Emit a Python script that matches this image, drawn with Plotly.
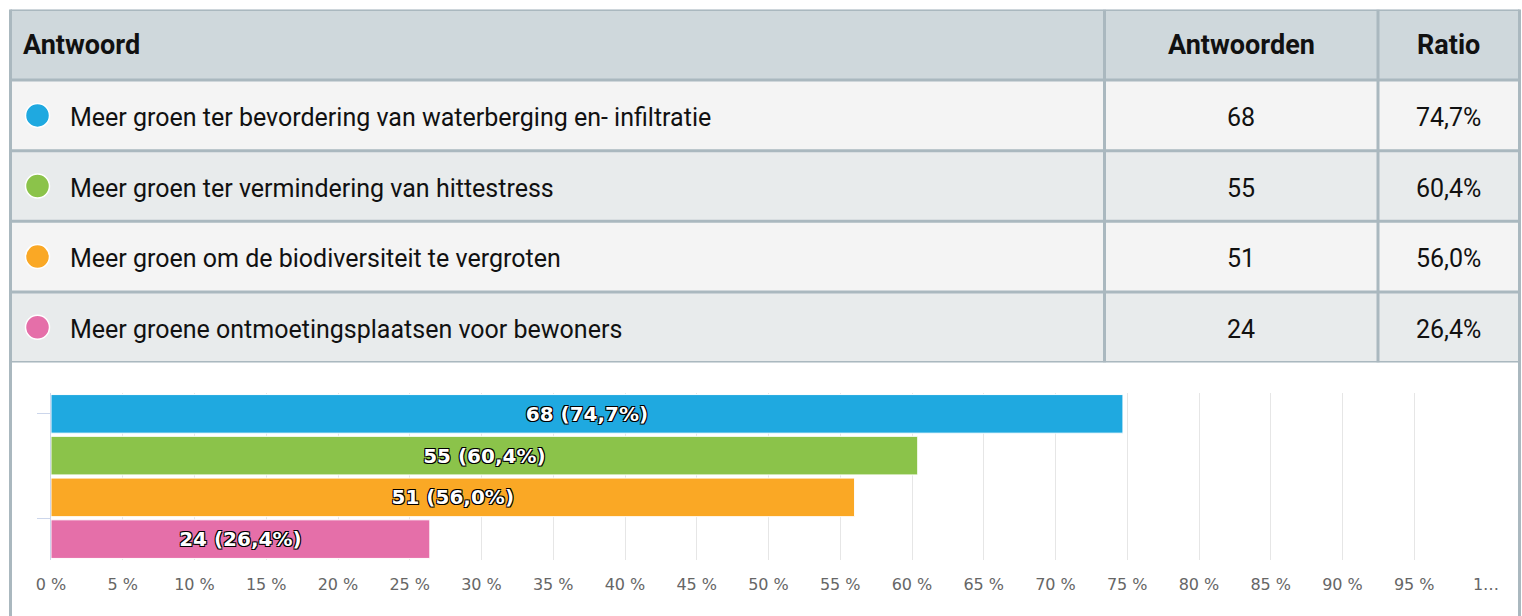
import plotly.graph_objects as go

# ---------------- data ----------------
answers = [
    "Meer groen ter bevordering van waterberging en- infiltratie",
    "Meer groen ter vermindering van hittestress",
    "Meer groen om de biodiversiteit te vergroten",
    "Meer groene ontmoetingsplaatsen voor bewoners",
]
counts = [68, 55, 51, 24]
ratios = [74.7, 60.4, 56.0, 26.4]
colors = ["#1fa9e0", "#8bc34a", "#faa825", "#e56fa9"]
headers = ["Antwoord", "Antwoorden", "Ratio"]
x_tickvals = list(range(0, 101, 5))
x_ticktext = [f"{v} %" for v in range(0, 100, 5)] + ["1…"]

# ---------------- helpers ----------------
W, H = 1522, 616
def px(x):
    return x / W
def py(y):
    return 1 - y / H
def fmt(r):
    return f"{r:.1f}".replace(".", ",") + "%"

BORDER = "#aab8bf"
HEAD_BG = "#cfd8dc"
ROW_BG = ["#f4f4f4", "#e8ebec"]
TABLE_FONT = "Roboto, sans-serif"
HSIZE = 27
TSIZE = 25

fig = go.Figure()

# bar chart
fig.add_trace(go.Bar(
    y=answers, x=ratios, orientation="h",
    marker=dict(color=colors, line=dict(color="white", width=1)),
    text=[f"{c} ({fmt(r)})" for c, r in zip(counts, ratios)],
    textposition="inside", insidetextanchor="middle", textangle=0,
    constraintext="none",
    textfont=dict(family="DejaVu Sans", size=20, color="white", weight="bold",
                  shadow="-1px -1px 0 #000, 1px -1px 0 #000, -1px 1px 0 #000, 1px 1px 0 #000"),
    hoverinfo="skip", xaxis="x", yaxis="y",
))

# table circles
rows = list(range(1, len(answers) + 1))
fig.add_trace(go.Scatter(
    x=[37.5] * len(answers), y=rows, mode="markers",
    marker=dict(color=colors, size=24, line=dict(color="white", width=1.5)),
    hoverinfo="skip", xaxis="x2", yaxis="y2",
))

shapes = []
annotations = []
# row backgrounds
for k in range(len(answers) + 1):
    fill = HEAD_BG if k == 0 else ROW_BG[(k - 1) % 2]
    shapes.append(dict(type="rect", xref="paper", yref="y2", x0=px(10.5), x1=px(1519.5),
                       y0=k - 0.5, y1=k + 0.5, fillcolor=fill, line=dict(width=0), layer="below"))
# horizontal lines
for k in range(len(answers) + 2):
    shapes.append(dict(type="line", xref="paper", yref="y2", x0=px(10.5), x1=px(1519.5),
                       y0=k - 0.5, y1=k - 0.5, line=dict(color=BORDER, width=3)))
# column separators
for xc in (1104.5, 1378):
    shapes.append(dict(type="line", xref="paper", yref="y2", x0=px(xc), x1=px(xc),
                       y0=-0.5, y1=len(answers) + 0.5, line=dict(color=BORDER, width=3)))
# outer borders
for xc in (10.5, 1519.5):
    shapes.append(dict(type="line", xref="paper", yref="paper", x0=px(xc), x1=px(xc),
                       y0=0, y1=py(9.5), line=dict(color=BORDER, width=3)))

col_centers = [px((1104.5 + 1378) / 2), px((1378 + 1519.5) / 2)]
# header text
annotations.append(dict(text=headers[0], xref="paper", yref="y2", x=px(21), y=0,
                        xanchor="left", yanchor="middle", showarrow=False,
                        font=dict(family=TABLE_FONT, size=HSIZE, color="#111", weight="bold")))
for t, xc in zip(headers[1:], col_centers):
    annotations.append(dict(text=t, xref="paper", yref="y2", x=xc, y=0,
                            xanchor="center", yanchor="middle", showarrow=False,
                            font=dict(family=TABLE_FONT, size=HSIZE, color="#111", weight="bold")))
# body text
for k, (a, c, r) in enumerate(zip(answers, counts, ratios), start=1):
    annotations.append(dict(text=a, xref="paper", yref="y2", x=px(68), y=k, yshift=-2,
                            xanchor="left", yanchor="middle", showarrow=False,
                            font=dict(family=TABLE_FONT, size=TSIZE, color="#111")))
    annotations.append(dict(text=str(c), xref="paper", yref="y2", x=col_centers[0], y=k, yshift=-2,
                            xanchor="center", yanchor="middle", showarrow=False,
                            font=dict(family=TABLE_FONT, size=TSIZE, color="#111")))
    annotations.append(dict(text=fmt(r), xref="paper", yref="y2", x=col_centers[1], y=k, yshift=-2,
                            xanchor="center", yanchor="middle", showarrow=False,
                            font=dict(family=TABLE_FONT, size=TSIZE, color="#111")))

fig.update_layout(
    width=W, height=H, margin=dict(l=0, r=0, t=0, b=0),
    paper_bgcolor="white", plot_bgcolor="white", showlegend=False,
    bargap=0.075,
    xaxis=dict(domain=[px(51), px(1486)], range=[0, 100], tickmode="array",
               tickvals=x_tickvals, ticktext=x_ticktext, showgrid=True, gridcolor="#e6e6e6",
               gridwidth=1, zeroline=False, showline=False, ticks="", ticklabelstandoff=13,
               tickfont=dict(family="DejaVu Sans", size=16, color="#666666"),
               anchor="y", fixedrange=True, automargin=False),
    yaxis=dict(domain=[py(560), py(393)], type="category", categoryorder="array",
               categoryarray=answers, autorange="reversed", showline=True, linecolor="#ccd6eb",
               linewidth=1, tickmode="array", tickvals=[0, 2.5], ticktext=["", ""],
               ticks="outside", ticklen=13, tickcolor="#ccd6eb", showgrid=False,
               anchor="x", fixedrange=True, automargin=False),
    xaxis2=dict(domain=[0, 1], range=[0, W], visible=False, anchor="y2", fixedrange=True),
    yaxis2=dict(domain=[py(362.5), py(9.5)], range=[len(answers) + 0.5, -0.5], visible=False,
                anchor="x2", fixedrange=True),
    shapes=shapes, annotations=annotations,
)

fig.write_html("out.html", config={"displayModeBar": False},
               post_script="document.body.style.margin='0';document.body.style.overflow='hidden';")
